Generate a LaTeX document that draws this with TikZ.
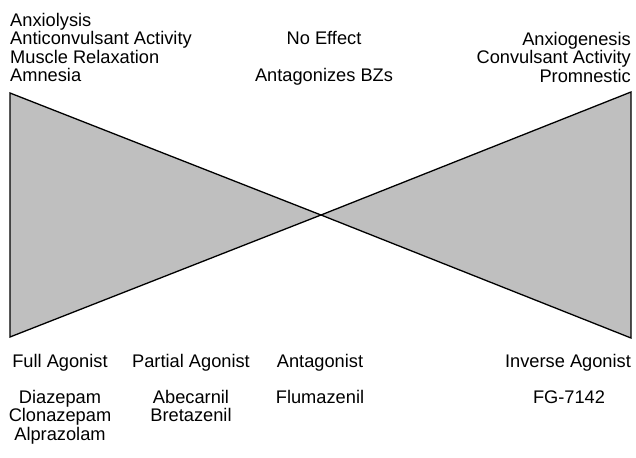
\documentclass[tikz,border=0pt]{standalone}
\usepackage{fontspec}
\setmainfont{Liberation Sans}
\usepackage{tikz}

\begin{document}
\begin{tikzpicture}[x=1pt,y=-1pt,
  every node/.style={inner sep=0pt,font=\fontsize{18.25}{18.5}\selectfont},
  wedge/.style={draw=black,line width=1.3pt,fill=gray!50,line join=miter}]
  \useasboundingbox (0,0) rectangle (636,457);
  % the two wedges meeting at the middle
  \coordinate (apex) at (321,215);
  \coordinate (lt) at (10,93);
  \coordinate (lb) at (10,337);
  \coordinate (rt) at (631,92);
  \coordinate (rb) at (631,338);
  \draw[wedge] (lt) -- (apex) -- (lb) -- cycle;
  \draw[wedge] (rt) -- (apex) -- (rb) -- cycle;
  % effects
  \node[anchor=north west,align=left] (effL) at (10,12.8)
    {Anxiolysis\\Anticonvulsant Activity\\Muscle Relaxation\\Amnesia};
  \node[anchor=base] (noeff) at (324,45) {No Effect};
  \node[anchor=base] (antbz) at (324,82) {Antagonizes BZs};
  \node[anchor=north east,align=right] (effR) at (631,31.8)
    {Anxiogenesis\\Convulsant Activity\\Promnestic};
  % ligand classes
  \node[anchor=base] (full) at (60,367) {Full Agonist};
  \node[anchor=base] (part) at (191,367) {Partial Agonist};
  \node[anchor=base] (antag) at (320,367) {Antagonist};
  \node[anchor=base] (inv) at (568,367) {Inverse Agonist};
  % drugs
  \node[anchor=north,align=center] (drFull) at (60,389.8)
    {Diazepam\\Clonazepam\\Alprazolam};
  \node[anchor=north,align=center] (drPart) at (191,389.8)
    {Abecarnil\\Bretazenil};
  \node[anchor=base] (drAnt) at (320,403) {Flumazenil};
  \node[anchor=base] (drInv) at (569,403) {FG-7142};
\end{tikzpicture}
\end{document}
